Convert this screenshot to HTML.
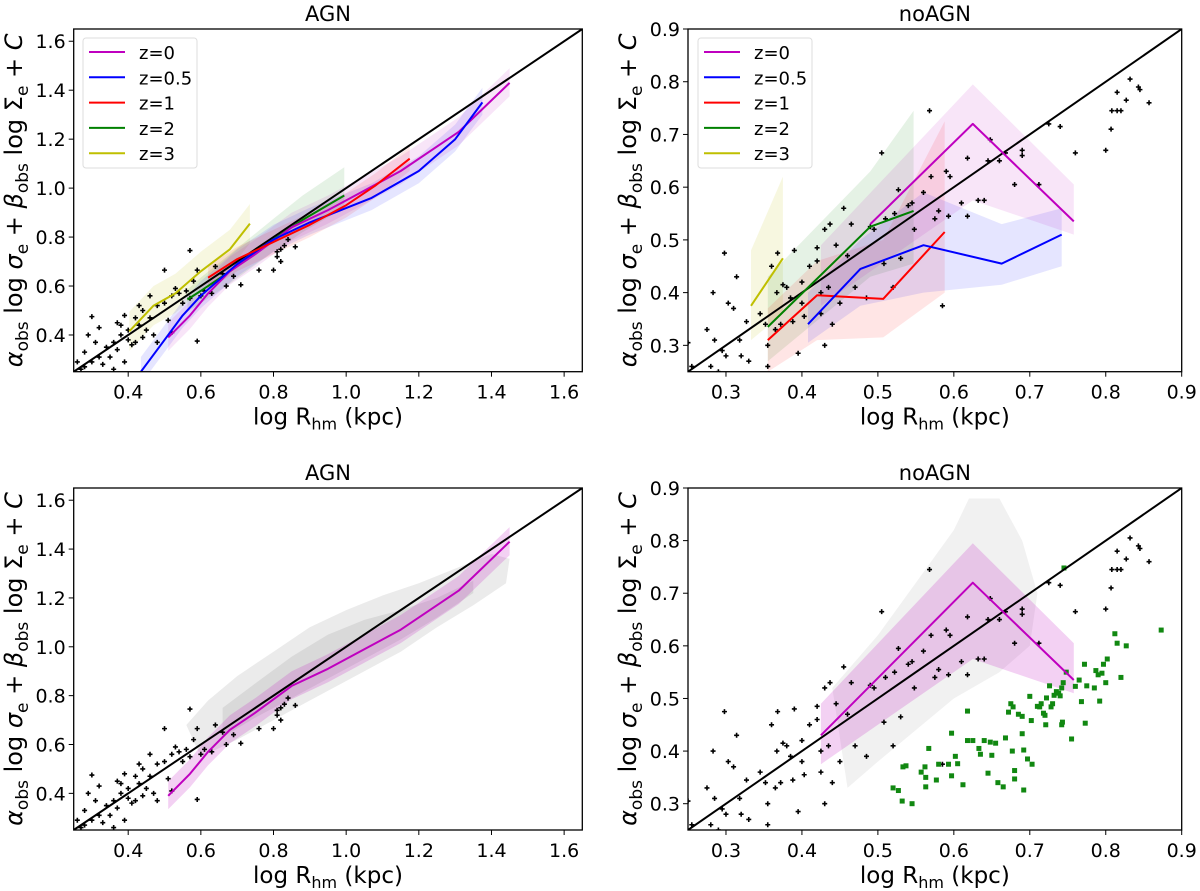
<!DOCTYPE html>
<html><head><meta charset="utf-8"><style>
html,body{margin:0;padding:0;background:#fff;}
svg{display:block;font-family:"DejaVu Sans","Liberation Sans",sans-serif;}
</style></head><body>
<svg id="fig" width="1200" height="891" viewBox="0 0 1200 891" xmlns="http://www.w3.org/2000/svg"></svg>
<script>
// ---------- DATA ----------
const agnObsX=[0.26,0.27,0.28,0.28,0.29,0.30,0.30,0.31,0.32,0.32,0.33,0.34,0.35,0.36,0.36,0.37,0.37,0.38,0.38,0.39,0.39,0.40,0.40,0.41,0.42,0.42,0.43,0.43,0.44,0.44,0.45,0.46,0.46,0.47,0.48,0.48,0.50,0.50,0.51,0.52,0.52,0.53,0.54,0.55,0.56,0.57,0.57,0.58,0.59,0.59,0.60,0.61,0.63,0.64,0.66,0.67,0.69,0.71,0.76,0.80,0.81,0.82,0.83,0.84,0.86,0.81,0.82];
const agnObsY=[0.29,0.26,0.33,0.27,0.40,0.475,0.29,0.37,0.31,0.43,0.28,0.35,0.31,0.37,0.26,0.45,0.34,0.44,0.40,0.48,0.29,0.38,0.42,0.36,0.47,0.37,0.52,0.44,0.50,0.39,0.42,0.56,0.47,0.40,0.52,0.37,0.665,0.53,0.46,0.56,0.41,0.59,0.57,0.53,0.58,0.745,0.55,0.62,0.665,0.375,0.56,0.58,0.57,0.68,0.65,0.60,0.64,0.605,0.665,0.665,0.74,0.70,0.765,0.79,0.76,0.72,0.75];
const noObsX=[0.25,0.255,0.275,0.28,0.285,0.29,0.283,0.295,0.298,0.30,0.303,0.31,0.314,0.318,0.32,0.327,0.33,0.345,0.352,0.355,0.355,0.36,0.365,0.367,0.368,0.372,0.375,0.38,0.385,0.388,0.39,0.395,0.40,0.40,0.403,0.41,0.42,0.42,0.425,0.425,0.43,0.43,0.435,0.437,0.44,0.445,0.45,0.455,0.46,0.465,0.47,0.485,0.49,0.495,0.505,0.508,0.51,0.52,0.522,0.527,0.53,0.54,0.545,0.548,0.56,0.568,0.57,0.575,0.58,0.585,0.59,0.593,0.595,0.61,0.618,0.618,0.632,0.64,0.645,0.648,0.66,0.668,0.68,0.69,0.69,0.712,0.725,0.74,0.76,0.80,0.807,0.808,0.815,0.815,0.82,0.827,0.832,0.843,0.845,0.857];
const noObsY=[0.305,0.26,0.33,0.26,0.31,0.25,0.40,0.29,0.475,0.28,0.38,0.37,0.43,0.31,0.28,0.345,0.27,0.36,0.34,0.30,0.26,0.45,0.33,0.40,0.475,0.34,0.415,0.41,0.39,0.345,0.48,0.285,0.42,0.38,0.355,0.45,0.485,0.46,0.40,0.36,0.52,0.30,0.41,0.53,0.34,0.49,0.38,0.56,0.47,0.53,0.41,0.39,0.525,0.52,0.665,0.455,0.54,0.41,0.55,0.595,0.465,0.565,0.57,0.52,0.59,0.745,0.62,0.54,0.555,0.375,0.63,0.545,0.62,0.57,0.655,0.545,0.575,0.575,0.65,0.69,0.65,0.665,0.605,0.67,0.66,0.605,0.72,0.715,0.665,0.67,0.71,0.745,0.78,0.745,0.745,0.765,0.805,0.79,0.785,0.76];
const sqX=[0.52,0.527,0.532,0.533,0.537,0.545,0.557,0.562,0.563,0.563,0.567,0.577,0.58,0.593,0.597,0.597,0.602,0.605,0.612,0.618,0.618,0.625,0.633,0.635,0.64,0.645,0.648,0.65,0.655,0.658,0.665,0.668,0.672,0.675,0.677,0.678,0.68,0.68,0.685,0.69,0.69,0.692,0.692,0.697,0.7,0.702,0.703,0.71,0.713,0.715,0.718,0.72,0.721,0.722,0.726,0.728,0.73,0.732,0.735,0.738,0.74,0.742,0.742,0.743,0.744,0.745,0.748,0.755,0.76,0.765,0.768,0.772,0.773,0.775,0.785,0.787,0.79,0.792,0.795,0.797,0.8,0.802,0.812,0.815,0.82,0.827,0.873];
const sqY=[0.33,0.325,0.305,0.37,0.372,0.30,0.36,0.37,0.35,0.332,0.405,0.345,0.375,0.375,0.434,0.353,0.39,0.376,0.336,0.476,0.42,0.42,0.405,0.394,0.42,0.358,0.417,0.392,0.415,0.34,0.332,0.425,0.474,0.49,0.40,0.484,0.347,0.363,0.47,0.433,0.466,0.402,0.326,0.385,0.504,0.458,0.375,0.485,0.484,0.49,0.472,0.468,0.45,0.501,0.524,0.484,0.49,0.506,0.513,0.51,0.505,0.52,0.45,0.455,0.53,0.748,0.55,0.423,0.523,0.535,0.494,0.565,0.453,0.524,0.52,0.553,0.545,0.495,0.548,0.565,0.53,0.575,0.623,0.605,0.54,0.60,0.63];
const agnZ0X=[0.51,0.57,0.62,0.68,0.75,0.85,0.95,1.05,1.15,1.31,1.45];
const agnZ0Y=[0.39,0.48,0.57,0.66,0.73,0.84,0.91,0.99,1.07,1.23,1.43];
const agnZ05X=[0.435,0.49,0.55,0.60,0.70,0.80,0.90,1.07,1.20,1.30,1.375];
const agnZ05Y=[0.25,0.36,0.48,0.56,0.69,0.79,0.86,0.96,1.07,1.20,1.35];
const agnZ1X=[0.62,0.70,0.80,0.90,1.00,1.08,1.175];
const agnZ1Y=[0.634,0.71,0.78,0.85,0.93,1.01,1.12];
const agnZ2X=[0.563,0.60,0.68,0.80,0.88,0.995];
const agnZ2Y=[0.545,0.58,0.66,0.79,0.87,0.97];
const agnZ3X=[0.403,0.47,0.53,0.60,0.68,0.735];
const agnZ3Y=[0.415,0.52,0.57,0.66,0.75,0.855];
const noZ0X=[0.49,0.625,0.758];   const noZ0Y=[0.53,0.72,0.535];
const noZ0BX=[0.425,0.625,0.758]; const noZ0BY=[0.43,0.72,0.535];
const noZ0Hi=[0.49,0.795,0.605];  const noZ0Lo=[0.375,0.575,0.51];
const noZ05X=[0.408,0.477,0.56,0.663,0.742]; const noZ05Y=[0.34,0.445,0.49,0.455,0.51];
const noZ05Hi=[0.40,0.50,0.59,0.53,0.56];    const noZ05Lo=[0.305,0.375,0.40,0.415,0.45];
const noZ1X=[0.355,0.42,0.507,0.588]; const noZ1Y=[0.31,0.395,0.388,0.515];
const noZ1Hi=[0.37,0.46,0.50,0.725];  const noZ1Lo=[0.25,0.31,0.315,0.40];
const noZ2X=[0.355,0.49,0.547]; const noZ2Y=[0.335,0.525,0.555];
const noZ2Hi=[0.43,0.63,0.745]; const noZ2Lo=[0.27,0.43,0.455];
const noZ3X=[0.333,0.375]; const noZ3Y=[0.375,0.465];
const noZ3Hi=[0.48,0.62];  const noZ3Lo=[0.31,0.36];
// simulation cloud envelopes (outer sparse + dense core)
const agnCloudX=[0.56,0.62,0.7,0.8,0.9,1.0,1.1,1.2,1.3,1.4,1.45,1.44,1.35,1.25,1.15,1.0,0.9,0.8,0.7,0.6];
const agnCloudY=[0.68,0.78,0.88,0.98,1.08,1.15,1.21,1.26,1.32,1.38,1.36,1.26,1.17,1.08,0.98,0.86,0.78,0.70,0.62,0.55];
const agnCoreX=[0.66,0.75,0.85,0.95,1.05,1.15,1.25,1.35,1.35,1.25,1.15,1.05,0.95,0.85,0.75,0.66];
const agnCoreY=[0.75,0.85,0.96,1.05,1.11,1.15,1.2,1.27,1.22,1.12,1.03,0.95,0.87,0.79,0.71,0.63];
const noCloudX=[0.44,0.5,0.55,0.6,0.62,0.66,0.69,0.71,0.70,0.66,0.6,0.55,0.5,0.46];
const noCloudY=[0.52,0.62,0.72,0.82,0.88,0.88,0.8,0.7,0.6,0.55,0.5,0.44,0.38,0.33];
const agnTicks=[0.4,0.6,0.8,1.0,1.2,1.4,1.6];
const noTicks=[0.3,0.4,0.5,0.6,0.7,0.8,0.9];
const legendLabels=["z=0","z=0.5","z=1","z=2","z=3"];

// ---------- DRAW ----------
const NS="http://www.w3.org/2000/svg";
const svg=document.getElementById('fig');
const COL={z0:'#bf00bf',z05:'#0000ff',z1:'#ff0000',z2:'#008000',z3:'#bfbf00'};
function mk(tag,attrs,parent){const e=document.createElementNS(NS,tag);for(const k in attrs)e.setAttribute(k,attrs[k]);(parent||svg).appendChild(e);return e;}
function makePanel(id,px0,px1,py0,py1,min,max){
  const g=mk('g',{});
  
  
  const cp=mk('clipPath',{id:'clip-'+id},g);mk('rect',{x:px0,y:py0,width:px1-px0,height:py1-py0},cp);
  const inner=mk('g',{'clip-path':'url(#clip-'+id+')'},g);
  return {g,inner,sx:v=>px0+(v-min)/(max-min)*(px1-px0),sy:v=>py1-(v-min)/(max-min)*(py1-py0),px0,px1,py0,py1,min,max};
}
function poly(P,xs,ys,fill,name){const pts=xs.map((x,i)=>P.sx(x).toFixed(1)+','+P.sy(ys[i]).toFixed(1)).join(' ');
  const e=mk('polygon',{points:pts,fill:fill,stroke:'none'},P.inner);
  
  }
function band(P,xs,lo,hi,color,op,name){const X=xs.concat(xs.slice().reverse());const Y=hi.concat(lo.slice().reverse());
  const pts=X.map((x,i)=>P.sx(x).toFixed(1)+','+P.sy(Y[i]).toFixed(1)).join(' ');
  const e=mk('polygon',{points:pts,fill:color,'fill-opacity':op},P.inner);
  
  }
function line(P,xs,ys,color,name,w){const pts=xs.map((x,i)=>P.sx(x).toFixed(1)+','+P.sy(ys[i]).toFixed(1)).join(' ');
  const e=mk('polyline',{points:pts,fill:'none',stroke:color,'stroke-width':w||2,'stroke-linejoin':'round'},P.inner);
  
  }
function crosses(P,xs,ys){const g=mk('g',{stroke:'#000','stroke-width':1.6},P.inner);
  
  
  xs.forEach((x,i)=>{const cx=P.sx(x),cy=P.sy(ys[i]);
    const p=mk('path',{d:`M${cx-2.5},${cy}H${cx+2.5}M${cx},${cy-2.5}V${cy+2.5}`},g);
    
    });}
function squares(P,xs,ys){const g=mk('g',{fill:'#118811'},P.inner);
  
  
  xs.forEach((x,i)=>{const r=mk('rect',{x:P.sx(x)-2.5,y:P.sy(ys[i])-2.5,width:5,height:5},g);
    
    });}
function axes(P,ticks,title,ylx){
  const one=mk('line',{x1:P.sx(P.min),y1:P.sy(P.min),x2:P.sx(P.max),y2:P.sy(P.max),stroke:'#000','stroke-width':2},P.inner);
  
  
  const fr=mk('rect',{x:P.px0,y:P.py0,width:P.px1-P.px0,height:P.py1-P.py0,fill:'none',stroke:'#000','stroke-width':1.3},P.g);
  
  
  ticks.forEach(t=>{
    const x=P.sx(t),y=P.sy(t);
    mk('line',{x1:x,y1:P.py1,x2:x,y2:P.py1+5,stroke:'#000','stroke-width':1},P.g);
    const tx=mk('text',{x:x,y:P.py1+27,'font-size':19,'text-anchor':'middle'},P.g);tx.textContent=t.toFixed(1);
    
    
    mk('line',{x1:P.px0,y1:y,x2:P.px0-5,y2:y,stroke:'#000','stroke-width':1},P.g);
    const ty=mk('text',{x:P.px0-8,y:y+7,'font-size':19,'text-anchor':'end'},P.g);ty.textContent=t.toFixed(1);
    
    
  });
  const tt=mk('text',{x:(P.px0+P.px1)/2,y:P.py0-8,'font-size':21,'text-anchor':'middle'},P.g);tt.textContent=title;
  
  
  const xl=mk('text',{x:(P.px0+P.px1)/2,y:P.py1+53,'font-size':23,'text-anchor':'middle'},P.g);
  xl.innerHTML='log R<tspan font-size="16" dy="5">hm</tspan><tspan dy="-5"> (kpc)</tspan>';
  
  
  const cy=(P.py0+P.py1)/2;
  const yl=mk('text',{x:0,y:0,'font-size':24,'text-anchor':'middle',transform:`translate(${ylx},${cy}) rotate(-90)`},P.g);
  yl.innerHTML='<tspan font-style="italic">α</tspan><tspan font-size="17" dy="6">obs</tspan><tspan dy="-6"> log </tspan><tspan font-style="italic">σ</tspan><tspan font-size="17" dy="6">e</tspan><tspan dy="-6"> + </tspan><tspan font-style="italic">β</tspan><tspan font-size="17" dy="6">obs</tspan><tspan dy="-6"> log Σ</tspan><tspan font-size="17" dy="6">e</tspan><tspan dy="-6"> + </tspan><tspan font-style="italic">C</tspan>';
  
  
}
function legend(P,x,y){
  const g=mk('g',{},P.g);
  
  
  mk('rect',{x:x,y:y,width:114,height:130,rx:3,fill:'#fff','fill-opacity':0.85,stroke:'#ddd'},g);
  const cols=[COL.z0,COL.z05,COL.z1,COL.z2,COL.z3];
  legendLabels.forEach((lab,i)=>{const yy=y+14+i*25.3;
    const e=mk('g',{},g);
    
    
    mk('line',{x1:x+6,y1:yy,x2:x+42,y2:yy,stroke:cols[i],'stroke-width':2},e);
    const t=mk('text',{x:x+56,y:yy+7,'font-size':18},e);t.textContent=lab;});
}

let P=makePanel('panel-agn-top',73.7,582.3,29,371.7,0.25,1.65);
band(P,agnZ3X,agnZ3Y.map(v=>v-0.08),agnZ3Y.map(v=>v+0.08),COL.z3,0.12,'band-z3');
band(P,agnZ2X,agnZ2Y.map(v=>v-0.05),agnZ2Y.map((v,i)=>v+0.04+i*0.015),COL.z2,0.1,'band-z2');
band(P,agnZ05X,agnZ05Y.map(v=>v-0.05),agnZ05Y.map(v=>v+0.06),COL.z05,0.1,'band-z05');
band(P,agnZ1X,agnZ1Y.map(v=>v-0.05),agnZ1Y.map(v=>v+0.05),COL.z1,0.1,'band-z1');
band(P,agnZ0X,agnZ0Y.map(v=>v-0.055),agnZ0Y.map(v=>v+0.06),COL.z0,0.1,'band-z0');
crosses(P,agnObsX,agnObsY);
axes(P,agnTicks,'AGN',22);
line(P,agnZ3X,agnZ3Y,COL.z3,'line-z3');
line(P,agnZ2X,agnZ2Y,COL.z2,'line-z2');
line(P,agnZ0X,agnZ0Y,COL.z0,'line-z0');
line(P,agnZ05X,agnZ05Y,COL.z05,'line-z05');
line(P,agnZ1X,agnZ1Y,COL.z1,'line-z1');
legend(P,83,38);

P=makePanel('panel-noagn-top',688,1181.7,29,371.7,0.25,0.9);
band(P,noZ3X,noZ3Lo,noZ3Hi,COL.z3,0.12,'band-z3');
band(P,noZ2X,noZ2Lo,noZ2Hi,COL.z2,0.1,'band-z2');
band(P,noZ1X,noZ1Lo,noZ1Hi,COL.z1,0.1,'band-z1');
band(P,noZ05X,noZ05Lo,noZ05Hi,COL.z05,0.1,'band-z05');
band(P,noZ0BX,noZ0Lo,noZ0Hi,COL.z0,0.1,'band-z0');
crosses(P,noObsX,noObsY);
axes(P,noTicks,'noAGN',636);
line(P,noZ3X,noZ3Y,COL.z3,'line-z3');
line(P,noZ2X,noZ2Y,COL.z2,'line-z2');
line(P,noZ1X,noZ1Y,COL.z1,'line-z1');
line(P,noZ05X,noZ05Y,COL.z05,'line-z05');
line(P,noZ0X,noZ0Y,COL.z0,'line-z0');
legend(P,698,38);

P=makePanel('panel-agn-bottom',73.7,582.3,488,830,0.25,1.65);
poly(P,agnCloudX,agnCloudY,'#ebebeb','simulated-galaxy-cloud');
poly(P,agnCoreX,agnCoreY,'#d9d9d9','simulated-galaxy-core');
band(P,agnZ0X,agnZ0Y.map(v=>v-0.055),agnZ0Y.map(v=>v+0.06),COL.z0,0.18,'band-z0');
crosses(P,agnObsX,agnObsY);
axes(P,agnTicks,'AGN',22);
line(P,agnZ0X,agnZ0Y,COL.z0,'line-z0');

P=makePanel('panel-noagn-bottom',688,1181.7,488,830,0.25,0.9);
poly(P,noCloudX,noCloudY,'#f1f1f1','simulated-galaxy-cloud');
band(P,noZ0BX,noZ0Lo,noZ0Hi,COL.z0,0.18,'band-z0');
crosses(P,noObsX,noObsY);
squares(P,sqX,sqY);
axes(P,noTicks,'noAGN',636);
line(P,noZ0BX,noZ0BY,COL.z0,'line-z0');
</script>
</body></html>
